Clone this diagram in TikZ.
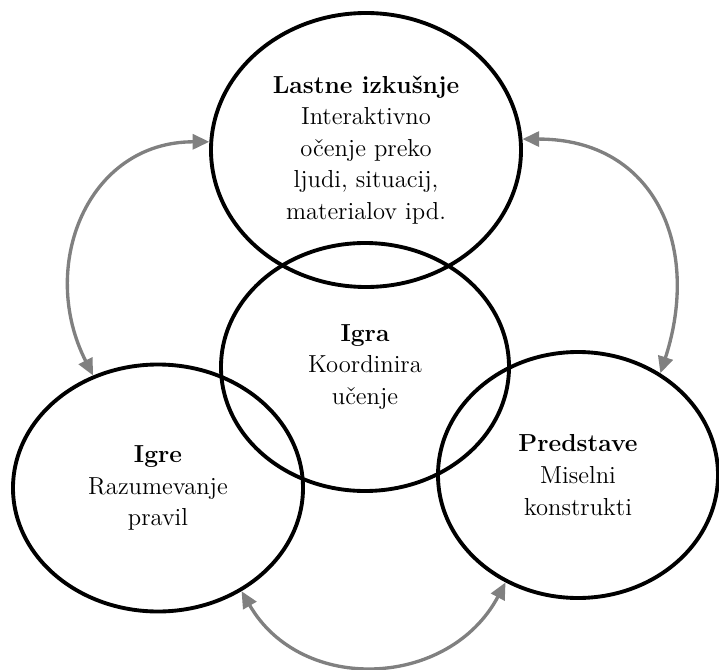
\documentclass[tikz,border=0pt]{standalone}
\usetikzlibrary{arrows.meta,shapes.geometric}
\begin{document}
\begin{tikzpicture}[
    bubble/.style={ellipse, draw=black, line width=2.2pt, inner sep=0pt, align=center, font=\fontsize{14}{18}\selectfont},
    link/.style={draw=gray, line width=1.9pt, {Triangle[length=9.5pt,width=8.5pt]}-{Triangle[length=9.5pt,width=8.5pt]}}
  ]
        \useasboundingbox (0,0) rectangle (14.38,-13.4);

        \node[bubble, minimum width=6.2cm, minimum height=5.48cm] (lastne) at(7.32,-3.0){\textbf{Lastne izkušnje}\\Interaktivno\\očenje preko\\ljudi, situacij,\\materialov ipd.};
        \node[bubble, minimum width=5.76cm, minimum height=4.96cm] (igra) at(7.3,-7.34){\textbf{Igra}\\Koordinira\\učenje};
        \node[bubble, minimum width=5.8cm, minimum height=4.94cm] (igre) at(3.16,-9.76){\textbf{Igre}\\Razumevanje\\pravil};
        \node[bubble, minimum width=5.6cm, minimum height=4.92cm] (predstave) at(11.56,-9.5){\textbf{Predstave}\\Miselni\\konstrukti};

        \draw [link] (igre.120) to[out=117, in=180, looseness=1.2] (lastne.177);
        \draw [link] (lastne.4) to[out=0, in=72, looseness=1.25] (predstave.51);
        \draw [link] (igre.309) to[out=-60, in=242, looseness=1.16] (predstave.236);

      \end{tikzpicture}
\end{document}
